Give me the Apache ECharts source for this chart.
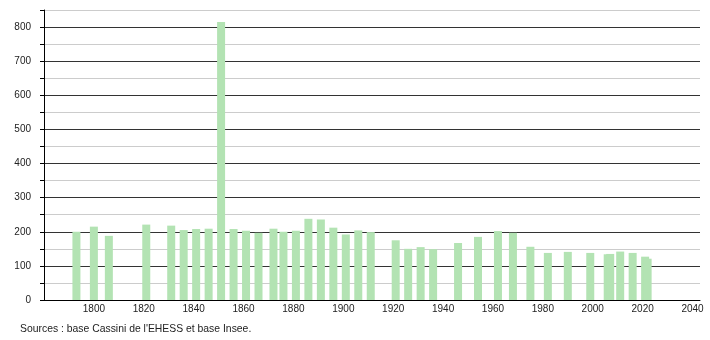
<!DOCTYPE html>
<html>
<head>
<meta charset="utf-8">
<script src="https://cdn.jsdelivr.net/npm/echarts@6/dist/echarts.min.js"></script>
<style>
html,body{margin:0;padding:0;background:#fff;}
#chart{width:710px;height:340px;}
</style>
</head>
<body>
<div id="chart"></div>
<script>
var years = [1793,1800,1806,1821,1831,1836,1841,1846,1851,1856,1861,1866,1872,1876,1881,1886,1891,1896,1901,1906,1911,1921,1926,1931,1936,1946,1954,1962,1968,1975,1982,1990,1999,2006,2007,2011,2016,2021,2022];
var population = [200,215,188,221,218,205,208,209,815,208,203,197,209,200,203,238,236,212,192,204,199,175,150,155,149,167,185,202,197,156,138,141,138,134,135,142,138,127,121];
var yTickLabels = [0,100,200,300,400,500,600,700,800];
var xTickLabels = [1800,1820,1840,1860,1880,1900,1920,1940,1960,1980,2000,2020,2040];
var sourceText = "Sources : base Cassini de l'EHESS et base Insee.";

var data = years.map(function(y,i){return [y, population[i]];});
var chart = echarts.init(document.getElementById('chart'), null, {renderer:'canvas'});
var font = 'Liberation Sans, Arial, sans-serif';
chart.setOption({
  animation:false,
  backgroundColor:'#fff',
  grid:{left:44,right:10,top:10,bottom:40,containLabel:false},
  xAxis:{
    type:'value', min:1780, max:2043, interval:20,
    axisLine:{show:true,lineStyle:{color:'#000',width:1}},
    axisTick:{show:false},
    splitLine:{show:false},
    axisLabel:{
      margin:4, fontSize:10, color:'#222', fontFamily:font,
      showMinLabel:true, showMaxLabel:true,
      formatter:function(v){return xTickLabels.indexOf(v)>=0 ? String(v) : '';}
    }
  },
  yAxis:{
    type:'value', min:0, max:850, interval:50,
    axisLine:{show:true,lineStyle:{color:'#000',width:1}},
    axisTick:{show:true,length:4,lineStyle:{color:'#000'}},
    splitLine:{show:true,lineStyle:{color:['#333333','#cccccc'],width:1}},
    axisLabel:{
      margin:13, fontSize:10, color:'#222', fontFamily:font,
      formatter:function(v){return yTickLabels.indexOf(v)>=0 ? String(v) : '';}
    }
  },
  series:[{
    type:'bar',
    data:data,
    barWidth:8,
    itemStyle:{color:'#b3e3b3'}
  }],
  graphic:[{
    type:'text', left:20, top:324,
    style:{text:sourceText, fontSize:10.4, fill:'#222', fontFamily:font}
  }]
});
</script>
</body>
</html>
